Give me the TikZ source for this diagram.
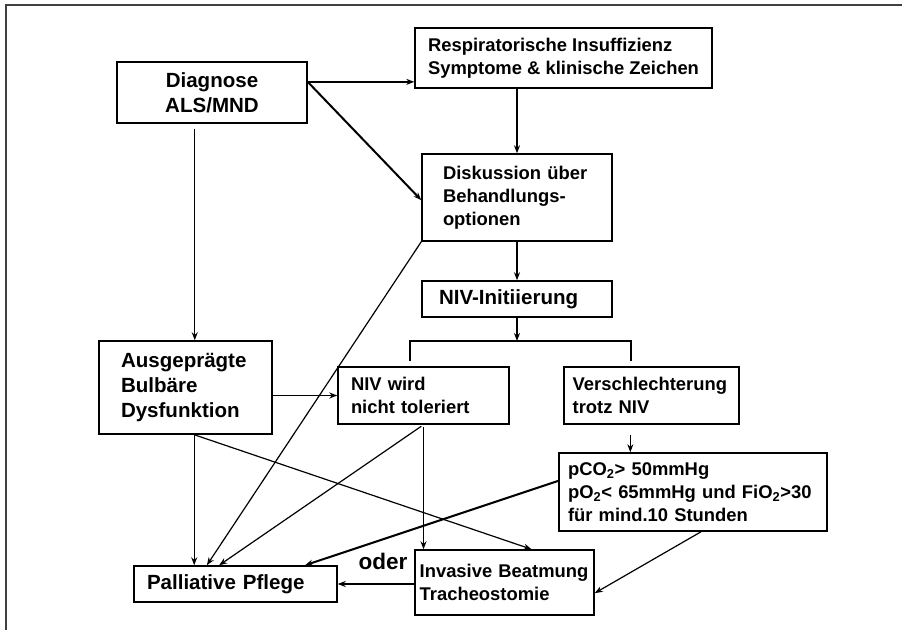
\documentclass[tikz,border=0pt]{standalone}
\usepackage{fontspec}
\setmainfont{Liberation Sans}
\usetikzlibrary{calc,arrows.meta}

\begin{document}
\begin{tikzpicture}[x=0.75pt,y=0.75pt,yscale=-1,xscale=1,
  box/.style={draw, line width=1.1pt, inner ysep=0pt, align=left, font=\bfseries\fontsize{13.8}{17.4}\selectfont},
  bigbox/.style={box, font=\bfseries\fontsize{15.4}{18.75}\selectfont},
  conn/.style={line width=0.9pt, -{Stealth[length=6pt,width=4.5pt]}},
  thickconn/.style={conn, line width=1.5pt}]
\useasboundingbox (0,0) rectangle (902,630);

%Frame
\draw [line width=1.5pt, color=black!75] (6,630) -- (6,5) -- (902,5) ;

% Text Node
\node [bigbox, align=center, minimum width=142.5pt, minimum height=45.75pt] (diag) at (212,92.5) {Diagnose\\ALS/MND};
% Text Node
\node [box, minimum width=222.75pt, minimum height=45pt] (resp) at (563.5,58) {Respiratorische Insuffizienz\\Symptome \& klinische Zeichen};
% Text Node
\node [box, text width=111pt, inner xsep=15.75pt, minimum height=65.25pt] (disk) at (517,197.5) {Diskussion über\\Behandlungs-\\optionen};
% Text Node
\node [bigbox, text width=117pt, inner xsep=12.75pt, minimum height=27pt] (init) at (517,299) {NIV-Initiierung};
% Text Node
\node [bigbox, text width=96.75pt, inner xsep=16.5pt, minimum height=69.75pt] (bulb) at (185.5,387.5) {Ausgeprägte\\Bulbäre\\Dysfunktion};
% Text Node
\node [box, text width=108.75pt, inner xsep=9.75pt, minimum height=42.75pt] (nivt) at (423.5,395.5) {NIV wird\\nicht toleriert};
% Text Node
\node [box, text width=118.25pt, inner xsep=6.5pt, minimum height=42.75pt] (versch) at (651.5,395.5) {Verschlechterung\\trotz NIV};
% Text Node
\node [box, text width=187.5pt, inner xsep=6.75pt, minimum height=58.5pt] (pco) at (693,492) {pCO\textsubscript{2}> 50mmHg\\pO\textsubscript{2}< 65mmHg und FiO\textsubscript{2}>30\\für mind.10 Stunden};
% Text Node
\node [bigbox, text width=132.75pt, inner xsep=9.75pt, minimum height=27pt] (pall) at (235.5,584) {Palliative Pflege};
% Text Node
\node [box, text width=127.25pt, inner xsep=3.5pt, minimum height=48.75pt] (inv) at (504.5,582.5) {Invasive Beatmung\\Tracheostomie};
% Text Node
\node [font=\bfseries\fontsize{16.9}{20}\selectfont] (oder) at (383,561) {oder};

%Straight Lines
\coordinate (dout) at ($(diag.north east)!0.33!(diag.south east)$);
\draw [thickconn] (dout) -- (dout -| resp.west) ;
\draw [thickconn] (dout) -- ($(disk.north west)!0.53!(disk.south west)$) ;
\draw [conn] (disk.north |- resp.south) -- (disk.north) ;
\draw [conn] (disk.south) -- (init.north) ;

%Bracket
\coordinate (brm) at (517,341);
\coordinate (brl) at (410,361);
\coordinate (brr) at (631,361);
\draw [conn] (init.south) -- (brm) ;
\draw [line width=0.9pt] (brl) |- (brm) -| (brr) ;

\coordinate (vout) at ($(versch.south west)!0.38!(versch.south east)$);
\draw [conn, shorten <=7.5pt] (vout) -- (vout |- pco.north) ;

\coordinate (ddown) at ($(diag.south west)!0.41!(diag.south east)$);
\draw [conn, shorten <=3.75pt] (ddown) -- (ddown |- bulb.north) ;
\draw [conn] (nivt.west -| bulb.east) -- (nivt.west) ;

\coordinate (bout) at ($(bulb.south west)!0.55!(bulb.south east)$);
\draw [conn] (bout) -- (bout |- pall.north) ;
\draw [conn] (bout) -- ($(inv.north west)!0.65!(inv.north east)$) ;
\draw [conn] (disk.south west) -- ($(pall.north west)!0.36!(pall.north east)$) ;
\draw [conn, shorten <=2pt] (nivt.south) -- ($(pall.north west)!0.42!(pall.north east)$) ;
\draw [conn, shorten <=2pt] (nivt.south) -- (nivt.south |- inv.north) ;
\draw [thickconn] ($(pco.north west)!0.36!(pco.south west)$) -- ($(pall.north west)!0.84!(pall.north east)$) ;
\draw [conn] ($(pco.south west)!0.53!(pco.south east)$) -- ($(inv.north east)!0.66!(inv.south east)$) ;
\draw [thickconn] (pall.east -| inv.west) -- (pall.east) ;

\end{tikzpicture}
\end{document}
